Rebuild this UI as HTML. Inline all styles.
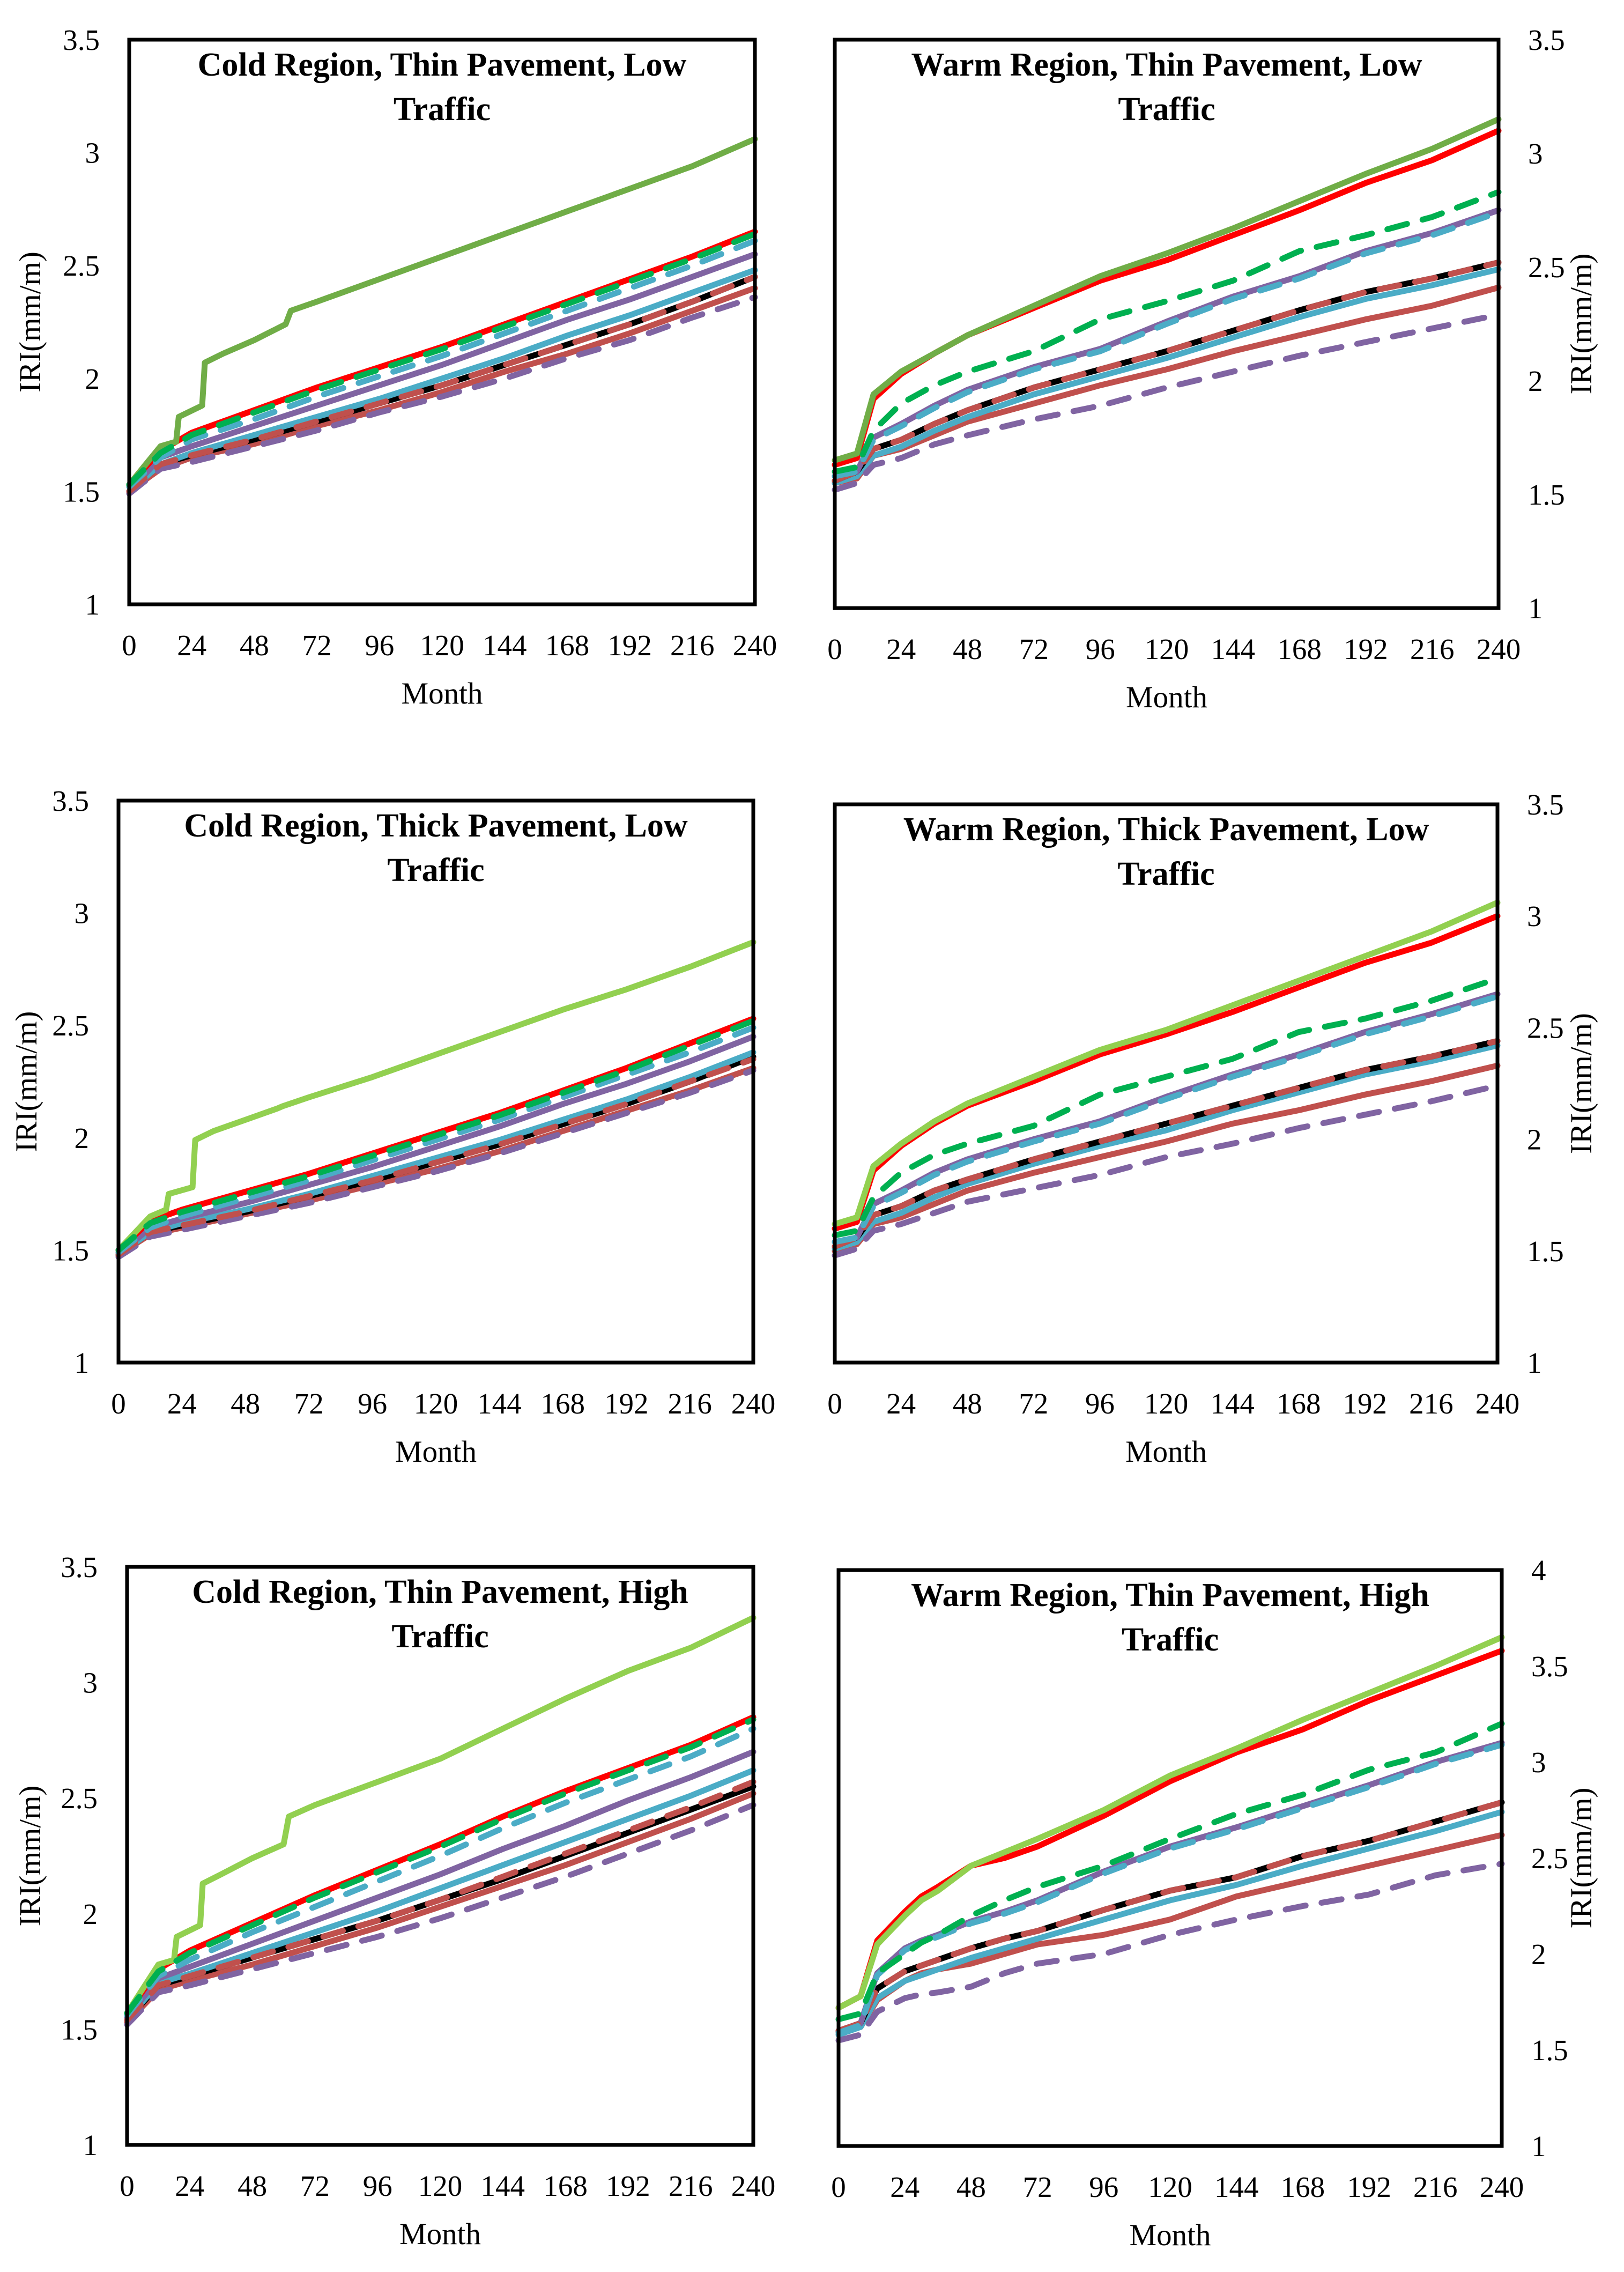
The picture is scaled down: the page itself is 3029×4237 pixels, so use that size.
<!DOCTYPE html>
<html><head><meta charset="utf-8"><style>
body{margin:0;background:#fff}
svg{display:block}
text{font-family:"Liberation Serif",serif;fill:#000}
</style></head><body>
<svg id="fig" width="3029" height="4237" viewBox="0 0 3029 4237" xmlns="http://www.w3.org/2000/svg"></svg>
<script>
// ---- shared tick labels ----
const xTicks = [0,24,48,72,96,120,144,168,192,216,240];
const yTicksLow = [1,1.5,2,2.5,3,3.5];
const yTicksHigh = [1,1.5,2,2.5,3,3.5,4];

// ---- month grids ----
const coldGreenMonths = [0,12,18,19,28,29,36,48,60,62,72,96,120,144,168,192,216,240];
const coldMonths = [0,12,24,48,72,96,120,144,168,192,216,240];
const warmMonthsA = [0,8,14,24,36,48,72,96,120,144,168,192,216,240];
const warmMonthsB = [0,8,14,24,30,36,48,60,72,96,120,144,168,192,216,240];

// Panel 1: Cold, thin, low
const p1Green = [1.53,1.70,1.72,1.83,1.88,2.07,2.11,2.17,2.24,2.30,2.34,2.44,2.54,2.64,2.74,2.84,2.94,3.06];
const p1Red = [1.53,1.68,1.76,1.86,1.96,2.05,2.14,2.24,2.34,2.44,2.54,2.65];
const p1GreenDash = [1.53,1.67,1.75,1.85,1.95,2.04,2.13,2.23,2.33,2.43,2.53,2.64];
const p1CyanDash = [1.52,1.65,1.73,1.82,1.92,2.01,2.10,2.20,2.30,2.40,2.50,2.61];
const p1Purple = [1.50,1.65,1.70,1.79,1.88,1.97,2.06,2.16,2.26,2.35,2.45,2.55];
const p1Cyan = [1.50,1.62,1.67,1.75,1.83,1.91,2.00,2.09,2.19,2.28,2.38,2.48];
const p1Black = [1.50,1.62,1.66,1.73,1.81,1.89,1.97,2.06,2.15,2.24,2.34,2.45];
const p1BrownDash = [1.50,1.62,1.66,1.73,1.81,1.89,1.97,2.06,2.15,2.24,2.34,2.45];
const p1Brown = [1.50,1.60,1.65,1.71,1.79,1.86,1.94,2.03,2.11,2.20,2.30,2.40];
const p1PurpleDash = [1.49,1.60,1.63,1.70,1.77,1.85,1.92,2.00,2.09,2.17,2.27,2.36];

// Panel 3: Cold, thick, low
const p3Green = [1.50,1.65,1.68,1.75,1.78,1.99,2.03,2.08,2.13,2.14,2.18,2.27,2.37,2.47,2.57,2.66,2.76,2.87];
const p3Red = [1.50,1.63,1.68,1.76,1.84,1.93,2.02,2.11,2.21,2.31,2.42,2.53];
const p3GreenDash = [1.50,1.62,1.67,1.75,1.83,1.92,2.01,2.10,2.20,2.30,2.41,2.52];
const p3CyanDash = [1.49,1.60,1.65,1.73,1.81,1.90,1.99,2.08,2.18,2.28,2.38,2.49];
const p3Purple = [1.48,1.60,1.64,1.71,1.79,1.87,1.96,2.05,2.15,2.24,2.34,2.45];
const p3Cyan = [1.48,1.58,1.62,1.68,1.75,1.83,1.91,1.99,2.08,2.17,2.27,2.38];
const p3Black = [1.48,1.58,1.61,1.67,1.74,1.81,1.89,1.97,2.06,2.15,2.25,2.36];
const p3BrownDash = [1.48,1.58,1.61,1.67,1.74,1.81,1.89,1.97,2.06,2.15,2.25,2.35];
const p3Brown = [1.48,1.57,1.60,1.66,1.72,1.79,1.86,1.94,2.03,2.12,2.21,2.31];
const p3PurpleDash = [1.47,1.56,1.59,1.65,1.71,1.78,1.85,1.93,2.02,2.11,2.20,2.30];

// Panel 5: Cold, thin, high
const p5Green = [1.57,1.78,1.80,1.90,1.95,2.13,2.17,2.24,2.30,2.42,2.47,2.57,2.67,2.80,2.93,3.05,3.15,3.28];
const p5Red = [1.57,1.76,1.84,1.96,2.08,2.19,2.30,2.42,2.53,2.63,2.73,2.85];
const p5GreenDash = [1.57,1.75,1.83,1.95,2.07,2.18,2.29,2.41,2.52,2.62,2.72,2.84];
const p5CyanDash = [1.56,1.73,1.80,1.92,2.03,2.14,2.25,2.37,2.48,2.58,2.68,2.80];
const p5Purple = [1.55,1.72,1.77,1.87,1.97,2.07,2.17,2.28,2.38,2.49,2.59,2.70];
const p5Cyan = [1.54,1.70,1.74,1.83,1.92,2.01,2.11,2.21,2.31,2.41,2.51,2.62];
const p5Black = [1.54,1.69,1.73,1.81,1.89,1.97,2.06,2.15,2.25,2.35,2.45,2.55];
const p5BrownDash = [1.54,1.69,1.73,1.81,1.89,1.97,2.06,2.16,2.26,2.36,2.46,2.57];
const p5Brown = [1.53,1.67,1.71,1.78,1.86,1.94,2.03,2.12,2.21,2.31,2.41,2.52];
const p5PurpleDash = [1.52,1.66,1.69,1.76,1.83,1.90,1.98,2.07,2.16,2.26,2.36,2.47];

// Panel 2: Warm, thin, low
const p2Green = [1.65,1.68,1.94,2.04,2.12,2.20,2.33,2.46,2.56,2.67,2.79,2.91,3.02,3.15];
const p2Red = [1.63,1.66,1.92,2.03,2.12,2.20,2.32,2.44,2.53,2.64,2.75,2.87,2.97,3.10];
const p2GreenDash = [1.60,1.62,1.78,1.90,1.98,2.04,2.13,2.27,2.35,2.44,2.57,2.64,2.72,2.83];
const p2Purple = [1.58,1.60,1.75,1.81,1.89,1.96,2.06,2.14,2.26,2.37,2.46,2.57,2.65,2.75];
const p2CyanDash = [1.58,1.60,1.74,1.80,1.88,1.95,2.05,2.13,2.25,2.36,2.45,2.56,2.64,2.74];
const p2Black = [1.56,1.60,1.70,1.74,1.81,1.87,1.97,2.05,2.13,2.22,2.31,2.39,2.45,2.52];
const p2BrownDash = [1.56,1.60,1.70,1.74,1.81,1.87,1.97,2.05,2.13,2.22,2.31,2.39,2.45,2.52];
const p2Cyan = [1.55,1.58,1.67,1.71,1.78,1.84,1.94,2.02,2.10,2.19,2.28,2.36,2.42,2.49];
const p2Brown = [1.55,1.57,1.67,1.70,1.76,1.82,1.90,1.98,2.05,2.13,2.20,2.27,2.33,2.41];
const p2PurpleDash = [1.52,1.55,1.63,1.66,1.72,1.76,1.83,1.89,1.97,2.04,2.11,2.17,2.23,2.29];

// Panel 4: Warm, thick, low
const p4Green = [1.62,1.65,1.88,1.98,2.08,2.16,2.28,2.40,2.49,2.60,2.71,2.82,2.93,3.06];
const p4Red = [1.60,1.63,1.86,1.97,2.07,2.15,2.26,2.38,2.47,2.57,2.68,2.79,2.88,3.00];
const p4GreenDash = [1.57,1.59,1.74,1.85,1.93,1.98,2.06,2.20,2.28,2.36,2.48,2.54,2.62,2.72];
const p4Purple = [1.54,1.56,1.71,1.77,1.85,1.91,2.00,2.08,2.19,2.29,2.38,2.48,2.56,2.65];
const p4CyanDash = [1.54,1.56,1.70,1.76,1.84,1.90,1.99,2.07,2.18,2.28,2.37,2.47,2.55,2.64];
const p4Black = [1.52,1.56,1.66,1.70,1.77,1.82,1.91,1.99,2.07,2.15,2.23,2.31,2.37,2.44];
const p4BrownDash = [1.52,1.56,1.66,1.70,1.77,1.82,1.91,1.99,2.07,2.15,2.23,2.31,2.37,2.44];
const p4Cyan = [1.51,1.54,1.63,1.67,1.74,1.80,1.89,1.97,2.04,2.13,2.21,2.29,2.35,2.42];
const p4Brown = [1.50,1.53,1.62,1.65,1.71,1.77,1.85,1.92,1.99,2.07,2.13,2.20,2.26,2.33];
const p4PurpleDash = [1.48,1.51,1.59,1.62,1.67,1.72,1.78,1.84,1.92,1.98,2.05,2.11,2.17,2.24];

// Panel 6: Warm, thin, high
const p6Green = [1.72,1.78,2.05,2.20,2.28,2.33,2.46,2.53,2.60,2.75,2.93,3.07,3.22,3.36,3.50,3.65];
const p6Red = [1.72,1.78,2.07,2.22,2.30,2.35,2.46,2.50,2.56,2.72,2.90,3.05,3.17,3.32,3.45,3.58];
const p6GreenDash = [1.66,1.69,1.90,2.00,2.06,2.10,2.20,2.28,2.35,2.46,2.60,2.73,2.83,2.96,3.05,3.20];
const p6Purple = [1.60,1.64,1.90,2.03,2.07,2.10,2.17,2.22,2.28,2.43,2.56,2.66,2.77,2.88,3.00,3.10];
const p6CyanDash = [1.59,1.63,1.89,2.02,2.06,2.09,2.16,2.21,2.27,2.42,2.55,2.65,2.76,2.87,2.99,3.09];
const p6Black = [1.60,1.64,1.82,1.91,1.94,1.97,2.03,2.08,2.12,2.23,2.33,2.40,2.51,2.59,2.69,2.79];
const p6BrownDash = [1.60,1.64,1.82,1.91,1.94,1.97,2.03,2.08,2.12,2.23,2.33,2.40,2.51,2.59,2.69,2.79];
const p6Cyan = [1.58,1.62,1.77,1.86,1.89,1.92,1.98,2.03,2.08,2.18,2.28,2.36,2.46,2.55,2.64,2.74];
const p6Brown = [1.60,1.62,1.76,1.86,1.90,1.92,1.95,2.00,2.05,2.10,2.18,2.30,2.38,2.46,2.54,2.62];
const p6PurpleDash = [1.55,1.58,1.70,1.77,1.79,1.80,1.83,1.90,1.95,2.00,2.10,2.18,2.25,2.31,2.41,2.47];

const C = {red:'#ff0000', green:'#92d050', olive:'#70ad47', gdash:'#00b050', cyan:'#4bacc6', purple:'#8064a2', black:'#000000', brown:'#c0504d'};

const NS = 'http://www.w3.org/2000/svg';
const svg = document.getElementById('fig');
function mk(tag, attrs, parent){ const e=document.createElementNS(NS,tag); for(const k in attrs) e.setAttribute(k,attrs[k]); (parent||svg).appendChild(e); return e; }

function panel(cfg){
  const g = mk('g',{});
  
  
  const {L,R,T,B,ymin,ymax} = cfg;
  const xs = m => L + (m/240)*(R-L);
  const ys = v => B - (v-ymin)/(ymax-ymin)*(B-T);
  cfg.series.forEach(s=>{
    const pts = s.months.map((m,i)=> xs(m).toFixed(1)+','+ys(s.vals[i]).toFixed(1)).join(' ');
    const pl = mk('polyline',{points:pts, fill:'none', stroke:s.color, 'stroke-width':11, 'stroke-linejoin':'round', 'stroke-linecap':'round'}, g);
    if(s.dash) pl.setAttribute('stroke-dasharray','38 30');
    
    
  });
  const fr = mk('rect',{x:L,y:T,width:R-L,height:B-T,fill:'none',stroke:'#000','stroke-width':7}, g);
  
  
  xTicks.forEach(t=>{
    const tx = mk('text',{x:xs(t), y:B+95, 'font-size':55, 'text-anchor':'middle'}, g);
    tx.textContent = t;
    
    
  });
  const xl = mk('text',{x:(L+R)/2, y:B+185, 'font-size':57, 'text-anchor':'middle'}, g);
  xl.textContent='Month';
  
  
  cfg.yTicks.forEach(t=>{
    const ty = mk('text',{x: cfg.right? R+55 : L-55, y: ys(t)+19, 'font-size':55, 'text-anchor': cfg.right?'start':'end'}, g);
    ty.textContent = t;
    
    
  });
  const yx = cfg.right ? 2955 : cfg.ytx;
  const yl = mk('text',{x:yx, y:(T+B)/2, 'font-size':57, 'text-anchor':'middle', transform:`rotate(-90 ${yx} ${(T+B)/2})`, 'dominant-baseline':'middle'}, g);
  yl.textContent='IRI(mm/m)';
  
  
  const cx = (L+R)/2;
  const t1 = mk('text',{x:cx, y:T+67, 'font-size':62, 'font-weight':'bold', 'text-anchor':'middle'}, g);
  t1.textContent = cfg.title1;
  
  
  const t2 = mk('text',{x:cx, y:T+150, 'font-size':62, 'font-weight':'bold', 'text-anchor':'middle'}, g);
  t2.textContent = 'Traffic';
  
  
}

function coldSeries(green, greenColor, red, gd, cd, pu, cy, bk, bd, br, pd){
  return [
    {id:'brown-solid', months:coldMonths, vals:br, color:C.brown},
    {id:'black-solid', months:coldMonths, vals:bk, color:C.black},
    {id:'cyan-solid', months:coldMonths, vals:cy, color:C.cyan},
    {id:'purple-solid', months:coldMonths, vals:pu, color:C.purple},
    {id:'red-solid', months:coldMonths, vals:red, color:C.red},
    {id:'green-solid', months:coldGreenMonths, vals:green, color:greenColor},
    {id:'purple-dashed', months:coldMonths, vals:pd, color:C.purple, dash:true},
    {id:'brown-dashed', months:coldMonths, vals:bd, color:C.brown, dash:true},
    {id:'cyan-dashed', months:coldMonths, vals:cd, color:C.cyan, dash:true},
    {id:'green-dashed', months:coldMonths, vals:gd, color:C.gdash, dash:true},
  ];
}
function warmSeries(M, greenColor, green, red, gd, pu, cd, bk, bd, cy, br, pd){
  return [
    {id:'brown-solid', months:M, vals:br, color:C.brown},
    {id:'cyan-solid', months:M, vals:cy, color:C.cyan},
    {id:'black-solid', months:M, vals:bk, color:C.black},
    {id:'purple-solid', months:M, vals:pu, color:C.purple},
    {id:'red-solid', months:M, vals:red, color:C.red},
    {id:'green-solid', months:M, vals:green, color:greenColor},
    {id:'purple-dashed', months:M, vals:pd, color:C.purple, dash:true},
    {id:'brown-dashed', months:M, vals:bd, color:C.brown, dash:true},
    {id:'cyan-dashed', months:M, vals:cd, color:C.cyan, dash:true},
    {id:'green-dashed', months:M, vals:gd, color:C.gdash, dash:true},
  ];
}

panel({name:'panel-cold-thin-low', L:241,R:1408,T:74,B:1127,ymin:1,ymax:3.5,yTicks:yTicksLow,ytx:62,
  title1:'Cold Region, Thin Pavement, Low',
  series:coldSeries(p1Green,C.olive,p1Red,p1GreenDash,p1CyanDash,p1Purple,p1Cyan,p1Black,p1BrownDash,p1Brown,p1PurpleDash)});
panel({name:'panel-warm-thin-low', L:1557,R:2795,T:74,B:1134,ymin:1,ymax:3.5,yTicks:yTicksLow,right:true,
  title1:'Warm Region, Thin Pavement, Low',
  series:warmSeries(warmMonthsA,C.olive,p2Green,p2Red,p2GreenDash,p2Purple,p2CyanDash,p2Black,p2BrownDash,p2Cyan,p2Brown,p2PurpleDash)});
panel({name:'panel-cold-thick-low', L:221,R:1405,T:1493,B:2541,ymin:1,ymax:3.5,yTicks:yTicksLow,ytx:55,
  title1:'Cold Region, Thick Pavement, Low',
  series:coldSeries(p3Green,C.green,p3Red,p3GreenDash,p3CyanDash,p3Purple,p3Cyan,p3Black,p3BrownDash,p3Brown,p3PurpleDash)});
panel({name:'panel-warm-thick-low', L:1557,R:2793,T:1500,B:2541,ymin:1,ymax:3.5,yTicks:yTicksLow,right:true,
  title1:'Warm Region, Thick Pavement, Low',
  series:warmSeries(warmMonthsA,C.green,p4Green,p4Red,p4GreenDash,p4Purple,p4CyanDash,p4Black,p4BrownDash,p4Cyan,p4Brown,p4PurpleDash)});
panel({name:'panel-cold-thin-high', L:237,R:1405,T:2922,B:4000,ymin:1,ymax:3.5,yTicks:yTicksLow,ytx:62,
  title1:'Cold Region, Thin Pavement, High',
  series:coldSeries(p5Green,C.green,p5Red,p5GreenDash,p5CyanDash,p5Purple,p5Cyan,p5Black,p5BrownDash,p5Brown,p5PurpleDash)});
panel({name:'panel-warm-thin-high', L:1564,R:2801,T:2928,B:4002,ymin:1,ymax:4,yTicks:yTicksHigh,right:true,
  title1:'Warm Region, Thin Pavement, High',
  series:warmSeries(warmMonthsB,C.green,p6Green,p6Red,p6GreenDash,p6Purple,p6CyanDash,p6Black,p6BrownDash,p6Cyan,p6Brown,p6PurpleDash)});
</script>
</body></html>
